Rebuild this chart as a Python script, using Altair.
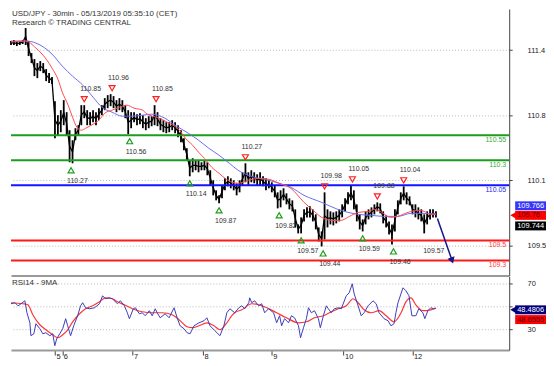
import altair as alt
import pandas as pd

TITLE_1 = "USD/JPY - 30min - 05/13/2019 05:35:10 (CET)"
TITLE_2 = "Research © TRADING CENTRAL"
RSI_TITLE = "RSI14 - 9MA"

# price range per 2-bar step (high / low)
hi = [111.49, 111.50, 111.49, 111.49, 111.50, 111.62, 111.49, 111.37, 111.31, 111.27,
      111.29, 111.27, 111.21, 111.17, 111.13, 110.89, 110.75, 110.80, 110.90, 110.78,
      110.60, 110.50, 110.62, 110.65, 110.85, 110.85, 110.80, 110.78, 110.80, 110.78,
      110.82, 110.85, 110.92, 110.95, 110.96, 110.94, 110.90, 110.92, 110.90, 110.85,
      110.80, 110.78, 110.78, 110.76, 110.77, 110.75, 110.72, 110.74, 110.74, 110.85,
      110.78, 110.72, 110.70, 110.68, 110.68, 110.70, 110.68, 110.65, 110.60, 110.52,
      110.42, 110.30, 110.32, 110.30, 110.30, 110.28, 110.30, 110.28, 110.20, 110.10,
      110.00, 109.95, 110.05, 110.12, 110.14, 110.12, 110.10, 110.07, 110.10, 110.18,
      110.27, 110.18, 110.20, 110.18, 110.16, 110.18, 110.14, 110.12, 110.10, 110.08,
      110.05, 109.98, 110.00, 110.02, 109.97, 109.92, 109.90, 109.81, 109.66, 109.73,
      109.81, 109.83, 109.84, 109.81, 109.76, 109.63, 109.59, 109.98, 109.81, 109.79,
      109.78, 109.79, 109.81, 109.86, 109.92, 109.98, 110.05, 110.00, 109.86, 109.76,
      109.71, 109.79, 109.81, 109.83, 109.86, 109.88, 109.87, 109.79, 109.75, 109.69,
      109.66, 109.81, 109.90, 109.98, 110.04, 109.98, 109.94, 109.86, 109.86, 109.83,
      109.81, 109.76, 109.79, 109.81, 109.81, 109.79]
lo = [111.45, 111.45, 111.44, 111.45, 111.46, 111.45, 111.34, 111.27, 111.14, 111.12,
      111.19, 111.17, 111.09, 111.07, 111.06, 110.52, 110.55, 110.58, 110.65, 110.55,
      110.28, 110.27, 110.50, 110.55, 110.65, 110.72, 110.65, 110.65, 110.68, 110.65,
      110.70, 110.75, 110.80, 110.82, 110.84, 110.82, 110.78, 110.80, 110.78, 110.72,
      110.56, 110.62, 110.68, 110.65, 110.66, 110.62, 110.60, 110.62, 110.64, 110.65,
      110.64, 110.60, 110.58, 110.57, 110.58, 110.60, 110.57, 110.53, 110.48, 110.40,
      110.30, 110.14, 110.18, 110.20, 110.18, 110.20, 110.20, 110.15, 110.05, 109.95,
      109.90, 109.87, 109.92, 110.00, 110.04, 110.02, 110.00, 109.95, 109.98, 110.05,
      110.08, 110.05, 110.08, 110.07, 110.05, 110.05, 110.04, 110.00, 110.02, 109.98,
      109.93, 109.82, 109.83, 109.90, 109.86, 109.81, 109.79, 109.63, 109.57, 109.57,
      109.69, 109.73, 109.73, 109.69, 109.61, 109.49, 109.44, 109.51, 109.63, 109.66,
      109.65, 109.67, 109.69, 109.73, 109.79, 109.86, 109.90, 109.81, 109.69, 109.61,
      109.59, 109.66, 109.71, 109.73, 109.76, 109.79, 109.77, 109.67, 109.63, 109.56,
      109.46, 109.59, 109.76, 109.86, 109.90, 109.86, 109.85, 109.76, 109.73, 109.71,
      109.69, 109.57, 109.66, 109.71, 109.73, 109.73]
candle_bar = [2 * k for k in range(len(hi))]

blue_bar = [0, 10, 17, 28, 35, 42, 49, 56, 62, 69, 76, 83, 90, 96, 105, 112, 121, 128, 135, 142,
            149, 155, 162, 169, 176, 183, 191, 200, 212, 223, 230, 237, 246, 255, 264, 273, 280, 290]
blue_val = [111.48, 111.49, 111.47, 111.36, 111.24, 111.14, 111.05, 110.93, 110.83, 110.78,
            110.74, 110.74, 110.75, 110.76, 110.72, 110.65, 110.57, 110.50, 110.42, 110.35,
            110.27, 110.20, 110.15, 110.12, 110.10, 110.07, 110.03, 109.95, 109.88, 109.81,
            109.78, 109.76, 109.75, 109.74, 109.74, 109.77, 109.77, 109.766]

red_bar = [0, 10, 17, 24, 28, 32, 35, 39, 42, 45, 48, 51, 56, 60, 64, 69, 74, 79, 84, 90,
           92, 101, 108, 115, 119, 124, 128, 132, 137, 142, 146, 151, 155, 162, 169, 176, 183, 191, 200, 207,
           212, 219, 225, 231, 237, 244, 248, 253, 259, 264, 271, 278, 282, 286, 290]
red_val = [111.49, 111.49, 111.42, 111.31, 111.22, 111.11, 110.98, 110.85, 110.73, 110.63,
           110.60, 110.62, 110.66, 110.70, 110.77, 110.80, 110.83, 110.85, 110.82, 110.80,
           110.77, 110.72, 110.67, 110.60, 110.52, 110.45, 110.38, 110.32, 110.23, 110.17,
           110.12, 110.08, 110.07, 110.10, 110.12, 110.11, 110.07, 110.02, 109.88, 109.79,
           109.73, 109.70, 109.70, 109.74, 109.78, 109.79, 109.81, 109.78, 109.73, 109.74,
           109.78, 109.80, 109.79, 109.76, 109.76]

high_bar = [50, 69, 99, 160, 214, 233, 250, 268]
high_val = [110.85, 110.96, 110.85, 110.27, 109.98, 110.05, 109.88, 110.04]
low_bar = [41, 81, 122, 142, 183, 198, 213, 240, 261]
low_val = [110.27, 110.56, 110.14, 109.87, 109.82, 109.57, 109.44, 109.59, 109.46]
low_note_bar = [284]
low_note_val = [109.57]

level_val = [110.55, 110.3, 110.05, 109.5, 109.3]
level_lab = ["110.55", "110.3", "110.05", "109.5", "109.3"]
level_col = ["#1c9e1c", "#1c9e1c", "#1414ff", "#ff1a1a", "#ff1a1a"]
level_tcol = ["#3aaa3a", "#3aaa3a", "#2a2aee", "#ff4040", "#ff4040"]

arrow_bar = [291, 301]
arrow_val = [109.72, 109.30]

price_ticks = [109.45, 110.1, 110.75, 111.4]

rsi_bar = [0, 2.7, 4.8, 6.8, 9.5, 10.9, 12.9, 13.6, 15.6, 17,
           19.7, 21.7, 23.8, 26.5, 28.5, 29.9, 31.2, 33.3, 35.3, 37.3,
           38.7, 40.7, 42.8, 45.5, 47.5, 48.9, 50.9, 53.6, 57, 60.4,
           62.5, 64.5, 67.2, 69.2, 72.6, 74.7, 77.4, 79.4, 80.8, 83.5,
           84.9, 87.6, 89.6, 91.6, 94.4, 96.4, 98.4, 99.8, 101.8, 105.2,
           107.9, 111.3, 113.4, 115.4, 118.1, 120.2, 122.2, 124.9, 128.3, 131.7,
           133.7, 135.8, 139.2, 142.6, 145.3, 147.3, 149.4, 152.7, 155.5, 157.5,
           159.5, 162.3, 162.9, 164.3, 166.3, 169, 171.1, 173.1, 175.8, 179.2,
           181.3, 183.3, 184.7, 186.7, 189.4, 191.4, 193.5, 196.2, 197.6, 199.6,
           201.6, 203, 205, 207.1, 209.8, 211.1, 213.2, 215.2, 216.6, 218.6,
           220.6, 223.4, 225.4, 228.8, 230.8, 232.9, 234.2, 236.9, 239, 241,
           243.7, 247.1, 249.2, 251.2, 254.6, 257.3, 259.3, 261.4, 262.7, 264.1,
           267.5, 269.5, 271.6, 273.6, 276.3, 278.3, 281.1, 282.4, 284.5, 286.5,
           288.5, 289.9]
rsi_val = [52.5, 53.4, 50.7, 52.5, 55.1, 44.6, 35.8, 24.5, 26.2, 35.0,
           30.6, 26.2, 27.1, 24.5, 26.2, 15.7, 21.8, 26.2, 30.6, 39.4,
           33.2, 24.5, 33.2, 42.0, 50.7, 53.4, 49.0, 48.1, 49.0, 52.5,
           59.5, 56.9, 57.7, 56.9, 52.5, 55.1, 50.7, 44.6, 39.4, 48.1,
           49.0, 43.7, 44.6, 42.0, 46.4, 42.0, 48.1, 44.6, 40.2, 43.7,
           40.2, 49.0, 40.2, 33.2, 30.6, 27.1, 26.2, 33.2, 35.8, 37.6,
           40.2, 33.2, 28.8, 24.5, 33.2, 44.6, 48.1, 44.6, 49.0, 50.7,
           48.1, 53.4, 57.7, 53.4, 55.1, 50.7, 52.5, 44.6, 48.1, 44.6,
           35.8, 42.0, 33.2, 39.4, 35.8, 42.0, 40.2, 33.2, 22.7, 31.5,
           39.4, 49.0, 44.6, 46.4, 39.4, 31.5, 42.0, 50.7, 48.1, 44.6,
           48.1, 49.0, 48.1, 59.5, 62.1, 70.0, 61.2, 50.7, 42.0, 44.6,
           50.7, 55.1, 52.5, 44.6, 39.4, 37.6, 33.2, 35.0, 44.6, 53.4,
           66.5, 63.9, 59.5, 42.0, 42.0, 48.1, 44.6, 39.4, 46.4, 49.0,
           48.1, 48.48]

rma_bar = [0, 8.1, 11.5, 14.9, 19.7, 23.8, 28.5, 31.9, 35.3, 38.7,
           42.1, 46.8, 50.9, 55.7, 60.4, 64.5, 69.2, 72.6, 77.4, 82.8,
           89.6, 96.4, 103.2, 110, 114.7, 120.2, 123.6, 128.3, 133.7, 138.5,
           142.6, 147.3, 150.7, 152.7, 157.5, 164.3, 169, 174.5, 181.3, 188,
           196.2, 201.6, 207.1, 213.2, 218.6, 223.4, 228.8, 233.5, 236.9, 241,
           245.8, 251.2, 256, 261.4, 266.2, 269.5, 272.9, 276.3, 281.1, 286.5,
           289.9]
rma_val = [53.4, 52.5, 51.6, 42.9, 34.1, 29.7, 25.3, 22.7, 25.3, 29.7,
           36.7, 43.7, 48.1, 50.7, 54.2, 57.7, 56.9, 54.2, 51.6, 48.1,
           45.5, 44.6, 44.6, 42.9, 38.5, 32.3, 31.5, 33.2, 35.8, 33.2,
           29.7, 35.8, 42.0, 44.6, 47.2, 52.5, 51.6, 49.0, 44.6, 40.2,
           35.8, 36.7, 40.2, 42.0, 45.5, 48.1, 50.7, 56.9, 53.4, 47.2,
           44.6, 46.4, 42.0, 36.7, 44.6, 54.2, 57.7, 51.6, 46.4, 47.2,
           48.66]

rsi_ticks = [30, 50, 70]
day_tick = [30, 35, 83, 131, 178, 227, 274]
day_lab = ["5", "6", "7", "8", "9", "10", "12"]

price_tags = [("109.766", 109.766, -8, "#3434ff", "#ffffff", False),
              ("109.76", 109.76, 1, "#ff0000", "#5a0000", True),
              ("109.744", 109.744, 10, "#000000", "#ffffff", False)]
rsi_tags = [("48.4806", 48.4806, 1.5, "#00007a", "#ffffff", True),
            ("48.6555", 48.6555, 11.5, "#ff0000", "#5a0000", False)]

# ---------------------------------------------------------------
W, H1, H2 = 501, 268, 74
FONT = "Liberation Sans"
xs = alt.Scale(domain=[0, 340], nice=False, zero=False)
ps = alt.Scale(domain=[109.15, 111.81], nice=False, zero=False)
rs = alt.Scale(domain=[11.9, 76.4], nice=False, zero=False)

price_axis = alt.Axis(orient="right", values=price_ticks, format=".1f", grid=True,
                      gridDash=[1, 2], gridColor="#b8b8b8", tickSize=3, tickColor="#444",
                      labelPadding=15, labelFontSize=7.5, labelColor="#222",
                      domainColor="#444", title=None)
main_x_axis = alt.Axis(labels=False, ticks=False, grid=False, domainColor="#9a9a9a",
                       domainWidth=2, title=None)
day_expr = " : ".join(f"datum.value == {t} ? '{l}'" for t, l in zip(day_tick, day_lab)) + " : ''"
rsi_x_axis = alt.Axis(values=day_tick, labelExpr=day_expr, tickSize=5, tickColor="#444",
                      domainColor="#9a9a9a", domainWidth=2, labelAlign="left",
                      labelBaseline="top", labelPadding=-3, labelOffset=1,
                      labelFontSize=7.5, labelColor="#222", labelOverlap=False,
                      labelFlush=False, grid=False, title=None)
rsi_axis = alt.Axis(orient="right", values=rsi_ticks,
                    labelExpr="datum.value == 50 ? '' : datum.label",
                    grid=True, gridDash=[1, 2],
                    gridColor="#b8b8b8", tickSize=3, tickColor="#444", labelPadding=15,
                    labelFontSize=7.5, labelColor="#222", domainColor="#444", title=None)

MX = lambda f="bar": alt.X(f"{f}:Q", scale=xs, axis=main_x_axis)
MY = lambda f="v": alt.Y(f"{f}:Q", scale=ps, axis=price_axis)
RX = lambda f="bar": alt.X(f"{f}:Q", scale=xs, axis=rsi_x_axis)
RY = lambda f="v": alt.Y(f"{f}:Q", scale=rs, axis=rsi_axis)

TAG_L, TAG_R = W + 6, W + 37


def tag_layers(tags, yenc):
    out = []
    for txt, v, dy, bg, fg, pointed in tags:
        base = alt.Chart(pd.DataFrame({"v": [v], "t": [txt]}))
        out.append(base.mark_rect(height=9, color=bg, yOffset=dy).encode(
            x=alt.value(TAG_L), x2=alt.value(TAG_R), y=yenc()))
        if pointed:
            out.append(base.mark_point(shape="triangle-left", filled=True, size=45,
                                       color=bg, opacity=1, yOffset=dy).encode(
                x=alt.value(TAG_L - 2), y=yenc()))
        out.append(base.mark_text(align="left", baseline="middle", fontSize=7.5,
                                  color=fg, yOffset=dy).encode(
            x=alt.value(TAG_L + 2), y=yenc(), text="t:N"))
    return out


candles = pd.DataFrame({"bar": candle_bar, "hi": hi, "lo": lo})
candles["mid"] = (candles["hi"] + candles["lo"]) / 2
blue_df = pd.DataFrame({"bar": blue_bar, "v": blue_val})
red_df = pd.DataFrame({"bar": red_bar, "v": red_val})
highs = pd.DataFrame({"bar": high_bar, "v": high_val, "t": [f"{x:.2f}" for x in high_val]})
lows = pd.DataFrame({"bar": low_bar, "v": low_val, "t": [f"{x:.2f}" for x in low_val]})
low_notes = pd.DataFrame({"bar": low_note_bar, "v": low_note_val,
                          "t": [f"{x:.2f}" for x in low_note_val]})
levels = pd.DataFrame({"v": level_val, "t": level_lab, "c": level_col, "tc": level_tcol})
arrow_df = pd.DataFrame({"bar": arrow_bar, "v": arrow_val})

level_rules = alt.Chart(levels).mark_rule(strokeWidth=2).encode(
    y=MY(), color=alt.Color("c:N", scale=None))
level_text = alt.Chart(levels).mark_text(align="right", baseline="middle", dy=5,
                                         fontSize=7).encode(
    x=alt.value(W - 3), y=MY(), text="t:N", color=alt.Color("tc:N", scale=None))

candle_layer = alt.Chart(candles).mark_rule(strokeWidth=1.8, color="#000000").encode(
    x=MX(), y=MY("lo"), y2="hi:Q")
candle_mid = alt.Chart(candles).mark_line(strokeWidth=1.3, color="#000000").encode(
    x=MX(), y=MY("mid"))

blue_line = alt.Chart(blue_df).mark_line(color="#6b6bf2", strokeWidth=1,
                                         interpolate="monotone").encode(x=MX(), y=MY())
red_line = alt.Chart(red_df).mark_line(color="#ff4a4a", strokeWidth=1,
                                       interpolate="monotone").encode(x=MX(), y=MY())

high_tri = alt.Chart(highs).mark_point(shape="triangle-down", filled=False, size=36,
                                       strokeWidth=1.2, color="#ff2020", opacity=1,
                                       yOffset=-6).encode(x=MX(), y=MY())
high_txt = alt.Chart(highs).mark_text(align="left", baseline="middle", dx=-4, dy=-16,
                                      fontSize=7, color="#333333").encode(
    x=MX(), y=MY(), text="t:N")
low_tri = alt.Chart(lows).mark_point(shape="triangle-up", filled=False, size=36,
                                     strokeWidth=1.2, color="#1c9e1c", opacity=1,
                                     yOffset=7).encode(x=MX(), y=MY())
low_txt = alt.Chart(pd.concat([lows, low_notes])).mark_text(
    align="left", baseline="middle", dx=-4, dy=18, fontSize=7, color="#333333").encode(
    x=MX(), y=MY(), text="t:N")

arrow_line = alt.Chart(arrow_df).mark_line(color="#14148c", strokeWidth=1.5).encode(
    x=MX(), y=MY())
arrow_head = alt.Chart(arrow_df.tail(1)).mark_point(
    shape="triangle-down", filled=True, size=55, color="#14148c", opacity=1,
    angle=341).encode(x=MX(), y=MY())

title_layer = alt.Chart(pd.DataFrame({"t": [TITLE_1]})).mark_text(
    align="left", baseline="alphabetic", fontSize=8, color="#333333").encode(
    x=alt.value(1), y=alt.value(7), text="t:N")
title_layer2 = alt.Chart(pd.DataFrame({"t": [TITLE_2]})).mark_text(
    align="left", baseline="alphabetic", fontSize=8, color="#333333").encode(
    x=alt.value(1), y=alt.value(16), text="t:N")

main = alt.layer(
    candle_layer, candle_mid, level_rules, level_text, blue_line, red_line, high_tri,
    high_txt, low_tri, low_txt, arrow_line, arrow_head, title_layer, title_layer2,
    *tag_layers(price_tags, MY)
).properties(width=W, height=H1)

# ---------------- RSI panel ----------------
rsi_df = pd.DataFrame({"bar": rsi_bar, "v": rsi_val})
rma_df = pd.DataFrame({"bar": rma_bar, "v": rma_val})

rsi_line = alt.Chart(rsi_df).mark_line(color="#3c3cb8", strokeWidth=1).encode(
    x=RX(), y=RY())
rma_line = alt.Chart(rma_df).mark_line(color="#ff3535", strokeWidth=1.2,
                                       interpolate="monotone").encode(x=RX(), y=RY())
rsi_title = alt.Chart(pd.DataFrame({"t": [RSI_TITLE]})).mark_text(
    align="left", baseline="alphabetic", fontSize=8, color="#333333").encode(
    x=alt.value(1), y=alt.value(9), text="t:N")

rsi = alt.layer(rma_line, rsi_line, rsi_title, *tag_layers(rsi_tags, RY)).properties(
    width=W, height=H2)

chart = alt.vconcat(main, rsi, spacing=1).properties(padding=0).configure(
    font=FONT).configure_view(stroke=None)

chart.save("out.html", embed_options={"renderer": "svg", "actions": False})
